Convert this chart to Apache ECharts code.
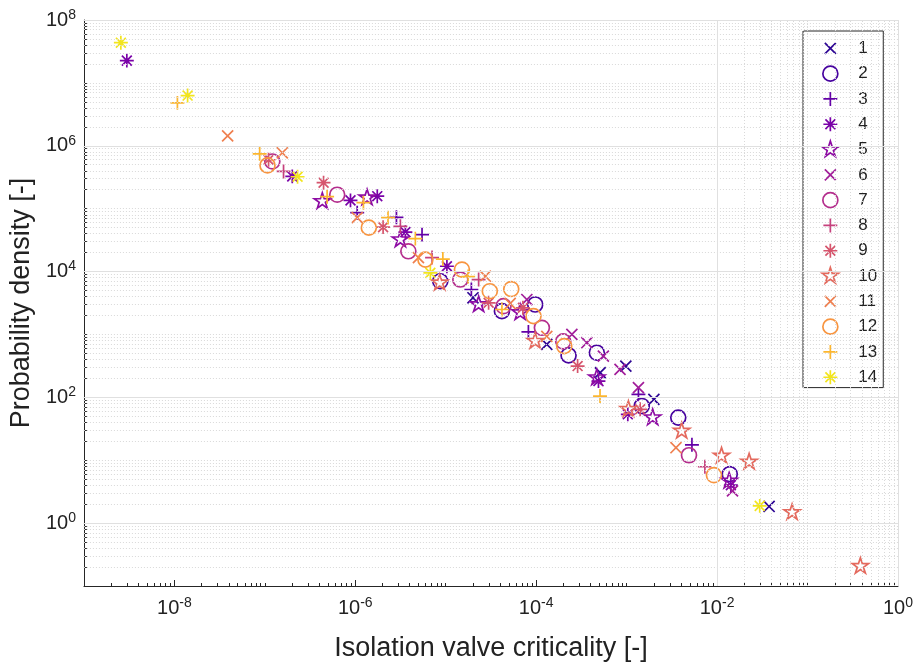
<!DOCTYPE html>
<html>
<head>
<meta charset="utf-8">
<script src="https://cdn.jsdelivr.net/npm/echarts@6/dist/echarts.min.js"></script>
<style>html,body{margin:0;padding:0;background:#fff}#chart{width:920px;height:667px}</style>
</head>
<body>
<div id="chart"></div>
<script>
// ---- data: [criticality, probability density] per series ----
const seriesNames = ['1','2','3','4','5','6','7','8','9','10','11','12','13','14'];
const s1 = [[2.0e-5,3830],[1.31e-4,694],[5.1e-4,247],[9.8e-4,314],[2.0e-3,93],[0.0376,1.84]];
const s2 = [[8.7e-6,7020],[4.18e-5,2344],[9.75e-5,2993],[2.28e-4,464],[4.68e-4,512],[1.47e-3,72.8],[3.72e-3,47.6],[0.0138,6.0]];
const s3 = [[1.05e-6,86400],[2.85e-6,72800],[5.47e-6,38700],[1.92e-5,5180],[8.2e-5,1096],[1.35e-3,111.6],[5.27e-3,17.6]];
const s4 = [[2.98e-9,2.26e7],[2.01e-7,3.26e5],[8.85e-7,1.355e5],[1.75e-6,1.58e5],[3.58e-6,42400],[1.03e-5,12140],[4.88e-4,181.5],[1.03e-3,53.7],[0.0142,4.01]];
const s5 = [[4.32e-7,1.306e5],[1.35e-6,1.495e5],[3.15e-6,32200],[2.31e-5,2993],[6.65e-5,2235],[4.68e-4,205.6],[1.94e-3,47.6],[0.0136,4.69]];
const s6 = [[7.88e-5,3594],[2.48e-4,1000],[3.63e-4,738],[5.53e-4,453],[8.45e-4,278],[1.35e-3,142.6],[0.0148,3.26]];
const s7 = [[1.21e-7,5.63e5],[6.31e-7,1.667e5],[3.86e-6,21000],[1.45e-5,7464],[4.35e-5,2814],[1.156e-4,1277],[1.99e-4,774],[4.89e-3,12.0]];
const s8 = [[1.61e-7,3.91e5],[3.15e-6,52400],[7.06e-6,16680],[2.31e-5,7464],[7.33e-3,7.88]];
const s9 = [[1.10e-7,6.0e5],[4.46e-7,2.59e5],[2.03e-6,50840],[2.98e-5,3186],[7.13e-5,2654],[2.87e-4,314],[1.41e-3,64.5]];
const s10 = [[8.57e-6,6620],[9.75e-5,783],[1.045e-3,64.5],[4.06e-3,29.2],[0.0112,11.7],[0.0226,9.4],[0.0675,1.48],[0.384,0.206]];
const s11 = [[3.88e-8,1.44e6],[1.56e-7,7.74e5],[1.05e-6,71970],[4.99e-6,16680],[2.74e-5,8430],[5.16e-5,3105],[1.31e-4,929],[3.51e-3,15.8]];
const s12 = [[1.07e-7,4.87e5],[1.41e-6,49950],[5.96e-6,15500],[1.51e-5,10760],[3.07e-5,4867],[5.30e-5,5275],[9.33e-5,1952],[2.04e-4,652],[9.23e-3,5.78]];
const s13 = [[1.08e-8,4.81e6],[8.77e-8,7.46e5],[4.88e-7,1.55e5],[1.23e-6,1.245e5],[2.30e-6,71970],[4.61e-6,33400],[9.29e-6,15790],[1.77e-5,8330],[4.18e-5,2494],[5.08e-4,104.9]];
const s14 = [[2.56e-9,4.36e7],[1.40e-8,6.29e6],[2.30e-7,3.22e5],[6.76e-6,9530],[0.0296,1.88]];
const allSeries = [s1,s2,s3,s4,s5,s6,s7,s8,s9,s10,s11,s12,s13,s14];

// axis tick labels (exponents of 10)
const xLabelExps = [-8,-6,-4,-2,0];
const yLabelExps = [0,2,4,6,8];
const xRange = [1e-9, 1];
const yRange = [1e-1, 1e8];

// ---- styles ----
const palette = ['#2d0594','#47039f','#6300a7','#7a02a8','#8e0ca4','#a21d9a','#b42e8d','#c6417d','#d6556d','#e46a5e','#ef7f4f','#f89540','#fcb62f','#f2e51e'];
const FRAME = 'M-10,-10M10,10';
const markerPaths = {
  x: 'path://' + FRAME + 'M-6.5,-6.5L6.5,6.5M-6.5,6.5L6.5,-6.5',
  o: 'path://' + FRAME + 'M8.8,0A8.8,8.8,0,1,1,-8.8,0A8.8,8.8,0,1,1,8.8,0Z',
  plus: 'path://' + FRAME + 'M0,-8.2L0,8.2M-8.2,0L8.2,0',
  ast: 'path://' + FRAME + 'M0,-8.2L0,8.2M-8.2,0L8.2,0M-5.8,-5.8L5.8,5.8M-5.8,5.8L5.8,-5.8',
  star: 'path://' + FRAME + 'M0,-10L2.245,-3.09L9.511,-3.09L3.633,1.18L5.878,8.09L0,3.82L-5.878,8.09L-3.633,1.18L-9.511,-3.09L-2.245,-3.09Z'
};
const markerCycle = ['x','o','plus','ast','star'];
const FONT = 'Liberation Sans, Arial, Helvetica, sans-serif';

function minorValues(e0, e1, majorExps) {
  const a=[];
  for (let e=e0;e<e1;e++){
    if (!majorExps.includes(e) && e!==e0) a.push(Number((Math.pow(10,e)).toPrecision(6)));
    for (let k=2;k<=9;k++) a.push(Number((k*Math.pow(10,e)).toPrecision(6)));
  }
  return a;
}
const xMajor = xLabelExps.map(e=>Math.pow(10,e));
const yMajor = yLabelExps.map(e=>Math.pow(10,e));
const xMinor = minorValues(-9, 0, xLabelExps);
const yMinor = minorValues(-1, 8, yLabelExps);

function supLabel(v){
  const e = Math.round(Math.log10(v));
  return '{b|10}{s|' + e + '}';
}
const labelRich = {
  b: {fontSize: 20, fontFamily: FONT, color: '#222'},
  s: {fontSize: 14, fontFamily: FONT, color: '#222', padding: [0,0,10,0]}
};

const chart = echarts.init(document.getElementById('chart'), null, {renderer: 'canvas'});

const gridSeries = {
  type: 'scatter', name: '__grid', data: [], z: 0, silent: true,
  xAxisIndex: 0, yAxisIndex: 0,
  markLine: {
    silent: true, symbol: ['none','none'], animation: false, label: {show: false},
    data: [].concat(
      xMinor.map(v => ({xAxis: v, lineStyle: {color: '#d9d9d9', width: 1, type: [1,2]}})),
      yMinor.map(v => ({yAxis: v, lineStyle: {color: '#d9d9d9', width: 1, type: [1,2]}})),
      xMajor.map(v => ({xAxis: v, lineStyle: {color: '#e0e0e0', width: 1, type: 'solid'}})),
      yMajor.map(v => ({yAxis: v, lineStyle: {color: '#e0e0e0', width: 1, type: 'solid'}}))
    )
  }
};

const dataSeries = allSeries.map((d, i) => ({
  type: 'scatter', name: seriesNames[i], data: d, z: 3,
  xAxisIndex: 0, yAxisIndex: 0,
  symbol: markerPaths[markerCycle[i % 5]], symbolSize: 17,
  itemStyle: {color: 'rgba(0,0,0,0)', borderColor: palette[i], borderWidth: 1.7, opacity: 1},
  emphasis: {disabled: true},
  animation: false
}));

const option = {
  animation: false,
  backgroundColor: '#ffffff',
  grid: {left: 83, right: 22, top: 20, bottom: 80, containLabel: false},
  xAxis: [
    {
      type: 'log', logBase: 10, min: xRange[0], max: xRange[1], position: 'bottom',
      name: 'Isolation valve criticality [-]', nameLocation: 'middle', nameGap: 49,
      nameTextStyle: {fontSize: 27, fontFamily: FONT, color: '#222'},
      axisLine: {show: true, onZero: false, lineStyle: {color: '#262626', width: 1}},
      axisTick: {show: true, inside: true, length: 6, customValues: xMajor, lineStyle: {color: '#262626'}},
      axisLabel: {show: true, customValues: xMajor, margin: 10, formatter: supLabel, rich: labelRich},
      splitLine: {show: false}, minorTick: {show: false}, minorSplitLine: {show: false}
    },
    {
      type: 'log', logBase: 10, min: xRange[0], max: xRange[1], position: 'bottom',
      axisLine: {show: false, onZero: false},
      axisTick: {show: true, inside: true, length: 3, customValues: xMinor, lineStyle: {color: '#262626'}},
      axisLabel: {show: false}, splitLine: {show: false}
    }
  ],
  yAxis: [
    {
      type: 'log', logBase: 10, min: yRange[0], max: yRange[1], position: 'left',
      name: 'Probability density [-]', nameLocation: 'middle', nameGap: 48,
      nameTextStyle: {fontSize: 27, fontFamily: FONT, color: '#222'},
      axisLine: {show: true, onZero: false, lineStyle: {color: '#262626', width: 1}},
      axisTick: {show: true, inside: true, length: 6, customValues: yMajor, lineStyle: {color: '#262626'}},
      axisLabel: {show: true, customValues: yMajor, margin: 8, formatter: supLabel, rich: labelRich},
      splitLine: {show: false}, minorTick: {show: false}, minorSplitLine: {show: false}
    },
    {
      type: 'log', logBase: 10, min: yRange[0], max: yRange[1], position: 'left',
      axisLine: {show: false, onZero: false},
      axisTick: {show: true, inside: true, length: 3, customValues: yMinor, lineStyle: {color: '#262626'}},
      axisLabel: {show: false}, splitLine: {show: false}
    }
  ],
  legend: {
    show: true, orient: 'vertical', left: 803, top: 31,
    padding: [8, 6, 1, 18],
    backgroundColor: '#ffffff', borderColor: '#262626', borderWidth: 1, borderRadius: 0,
    itemWidth: 46, itemHeight: 17, itemGap: 6.6,
    symbolKeepAspect: true,
    selectedMode: false,
    textStyle: {fontSize: 17, fontFamily: FONT, color: '#222', lineHeight: 17, padding: [0,0,0,0]},
    data: seriesNames.map((n, i) => ({
      name: n, icon: markerPaths[markerCycle[i % 5]],
      itemStyle: {color: 'rgba(0,0,0,0)', borderColor: palette[i], borderWidth: 1.7}
    }))
  },
  series: [gridSeries].concat(dataSeries)
};
chart.setOption(option);
</script>
</body>
</html>
